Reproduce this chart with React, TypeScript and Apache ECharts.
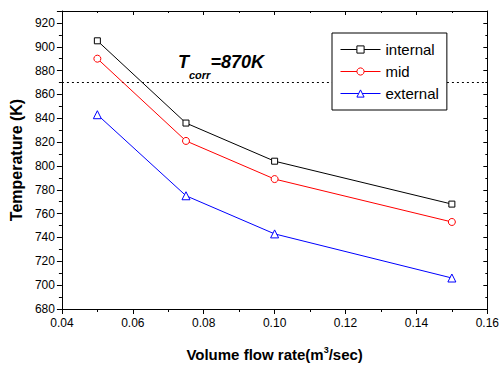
import React, { useEffect, useRef } from "react";
import * as echarts from "echarts";

const flowRates = [0.05, 0.075, 0.1, 0.15];
const internalT = [905, 836, 804, 768];
const midT = [890, 821, 789, 753];
const externalT = [843, 775, 743, 706];
const corrT = 870;
const seriesNames = ["internal", "mid", "external"];

const FONT = "'Liberation Sans', Arial, Helvetica, sans-serif";

export default function App() {
  const ref = useRef<HTMLDivElement>(null);
  useEffect(() => {
    if (!ref.current) return;
    const chart = echarts.init(ref.current, null, { renderer: "svg" });
    const mk = (arr: number[]) => flowRates.map((x, i) => [x, arr[i]]);
    const axisCommon = {
      axisLine: { show: true, lineStyle: { color: "#000", width: 1 } },
      splitLine: { show: false },
    };
    const lineSeries = (name: string, data: number[], symbol: string, size: number, color: string) => ({
      name,
      type: "line",
      data: mk(data),
      symbol,
      symbolSize: size,
      color,
      lineStyle: { width: 1, color },
      itemStyle: { color: "#fff", borderColor: color, borderWidth: 1 },
    });
    chart.setOption({
      animation: false,
      backgroundColor: "#fff",
      textStyle: { fontFamily: FONT },
      grid: { left: 56, right: 12, top: 11, bottom: 55 },
      xAxis: [
        {
          type: "value",
          min: 0.04,
          max: 0.16,
          interval: 0.02,
          ...axisCommon,
          axisTick: { show: true, inside: false, length: 5, lineStyle: { color: "#000" } },
          minorTick: { show: true, splitNumber: 2, length: 3, lineStyle: { color: "#000" } },
          axisLabel: {
            color: "#000",
            fontSize: 12,
            fontFamily: FONT,
            margin: 8,
            formatter: (v: number) => v.toFixed(2),
          },
          name: "Volume flow rate(m{sup|3}/sec)",
          nameLocation: "middle",
          nameGap: 36,
          nameTextStyle: {
            color: "#000",
            fontSize: 15,
            fontWeight: "bold",
            fontFamily: FONT,
            rich: {
              sup: { fontSize: 9, fontWeight: "bold", verticalAlign: "top", padding: [0, 0, 10, 0], fontFamily: FONT, color: "#000" },
            },
          },
        },
        {
          type: "value",
          position: "top",
          min: 0.04,
          max: 0.16,
          interval: 0.02,
          ...axisCommon,
          axisTick: { show: true, inside: true, length: 4, lineStyle: { color: "#000" } },
          minorTick: { show: true, splitNumber: 2, length: 2, lineStyle: { color: "#000" } },
          axisLabel: { show: false },
        },
      ],
      yAxis: [
        {
          type: "value",
          min: 680,
          max: 930,
          interval: 20,
          ...axisCommon,
          axisTick: { show: true, inside: false, length: 5, lineStyle: { color: "#000" } },
          minorTick: { show: true, splitNumber: 2, length: 3, lineStyle: { color: "#000" } },
          axisLabel: {
            color: "#000",
            fontSize: 12,
            fontFamily: FONT,
            margin: 7,
            showMaxLabel: false,
            formatter: (v: number) => (v > 920 ? "" : String(v)),
          },
          name: "Temperature (K)",
          nameLocation: "middle",
          nameGap: 34,
          nameTextStyle: { color: "#000", fontSize: 16, fontWeight: "bold", fontFamily: FONT },
        },
        {
          type: "value",
          position: "right",
          min: 680,
          max: 930,
          interval: 20,
          ...axisCommon,
          axisTick: { show: true, inside: true, length: 4, lineStyle: { color: "#000" } },
          minorTick: { show: true, splitNumber: 2, length: 2, lineStyle: { color: "#000" } },
          axisLabel: { show: false },
        },
      ],
      legend: {
        z: 20,
        left: 332,
        top: 33,
        orient: "vertical",
        padding: [9, 8, 9, 8],
        itemWidth: 40,
        itemHeight: 9,
        itemGap: 7,
        backgroundColor: "#fff",
        borderColor: "#000",
        borderWidth: 1,
        borderRadius: 0,
        data: seriesNames,
        lineStyle: { width: 1 },
        itemStyle: { borderWidth: 1 },
        textStyle: { color: "#000", fontSize: 15, fontFamily: FONT, padding: [0, 0, 0, 0] },
      },
      graphic: [
        {
          type: "text",
          left: 178,
          top: 53,
          style: {
            text: "{t|T}{s|corr}{t|=870K}",
            rich: {
              t: { fontSize: 18, fontWeight: "bold", fontStyle: "italic", fontFamily: FONT, fill: "#000" },
              s: { fontSize: 11, fontWeight: "bold", fontStyle: "italic", fontFamily: FONT, fill: "#000", verticalAlign: "bottom", padding: [0, 0, -9, 0] },
            },
          },
        },
      ],
      series: [
        {
          ...lineSeries(seriesNames[0], internalT, "rect", 6, "#000"),
          markLine: {
            z: 1,
            silent: true,
            symbol: "none",
            label: { show: false },
            lineStyle: { type: [2, 3], color: "#000", width: 1 },
            data: [{ yAxis: corrT }],
          },
        },
        lineSeries(seriesNames[1], midT, "circle", 7, "#ff0000"),
        lineSeries(seriesNames[2], externalT, "triangle", 8, "#0000ff"),
      ],
    });
    return () => chart.dispose();
  }, []);
  return <div ref={ref} style={{ width: 502, height: 367, position: "absolute", left: 0, top: 0 }} />;
}
